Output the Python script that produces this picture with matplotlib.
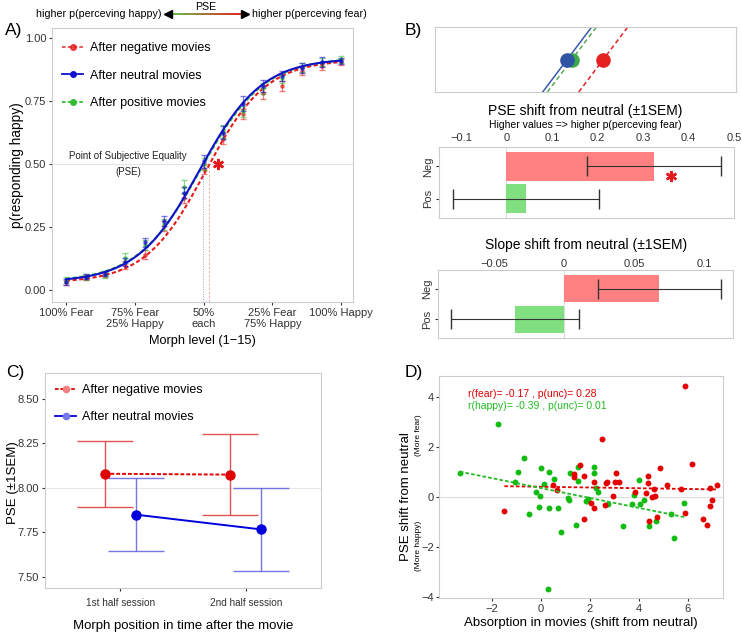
import numpy as np
import matplotlib
matplotlib.use('Agg')
import matplotlib.pyplot as plt
from matplotlib.lines import Line2D
from matplotlib.collections import LineCollection
from matplotlib.colors import to_rgb

plt.rcParams['font.family'] = ['Liberation Sans', 'DejaVu Sans']

# ---------------- data ----------------
# A) psychometric data, morph levels 1-15
levels = np.arange(1, 16)
neg_p = [0.030, 0.048, 0.062, 0.100, 0.140, 0.255, 0.365, 0.480, 0.600, 0.700, 0.780, 0.810, 0.870, 0.890, 0.905]
neu_p = [0.030, 0.052, 0.065, 0.110, 0.190, 0.275, 0.385, 0.510, 0.625, 0.740, 0.810, 0.850, 0.880, 0.905, 0.910]
pos_p = [0.040, 0.050, 0.060, 0.125, 0.180, 0.260, 0.410, 0.500, 0.630, 0.710, 0.800, 0.840, 0.885, 0.905, 0.915]
neg_sem = [0.010, 0.010, 0.010, 0.015, 0.018, 0.020, 0.020, 0.020, 0.022, 0.020, 0.020, 0.020, 0.018, 0.015, 0.012]
neu_sem = [0.012, 0.010, 0.010, 0.015, 0.018, 0.020, 0.022, 0.025, 0.025, 0.030, 0.025, 0.020, 0.020, 0.020, 0.012]
pos_sem = [0.012, 0.012, 0.012, 0.020, 0.020, 0.022, 0.025, 0.025, 0.025, 0.022, 0.022, 0.020, 0.018, 0.015, 0.015]
# fitted psychometric parameters (PSE, slope, lower, upper)
fit_neg = (8.30, 0.65, 0.028, 0.915)
fit_neu = (7.97, 0.63, 0.030, 0.920)
fit_pos = (8.01, 0.62, 0.032, 0.922)
xtick_pos = [1, 4.5, 8, 11.5, 15]
xtick_lab = ['100% Fear', '75% Fear\n25% Happy', '50%\neach', '25% Fear\n75% Happy', '100% Happy']

# B) shift from neutral
conds = ['Neg', 'Pos']
pse_shift = [0.325, 0.043]
pse_sem = [0.147, 0.161]
slope_shift = [0.068, -0.035]
slope_sem = [0.044, 0.046]

# C) PSE by half session
halves = ['1st half session', '2nd half session']
c_neg = [8.080, 8.075]
c_neg_sem = [0.186, 0.227]
c_neu = [7.850, 7.767]
c_neu_sem = [0.205, 0.235]

# D) absorption vs PSE shift
fear_x = [-1.48, 0.52, 0.69, 1.60, 1.35, 1.36, 1.77, 1.76, 2.52, 2.19, 2.06, 2.19, 2.61, 2.66, 2.70,
          2.96, 3.02, 3.09, 3.20, 3.87, 4.29, 4.40, 4.39, 4.53, 4.66, 4.65, 4.42, 4.76, 4.86, 5.16,
          5.72, 5.91, 5.90, 6.20, 6.63, 6.80, 6.90, 6.91, 7.02, 7.20]
fear_y = [-0.56, 0.47, 0.27, 1.29, 0.91, 0.79, 0.84, -0.89, 2.31, 0.61, -0.25, -0.45, -0.32, 0.55, 0.60,
          0.04, 0.59, 0.97, 0.59, 0.21, 0.15, 0.84, 0.57, -0.01, 0.04, 0.31, -0.95, -0.81, 1.16, 0.48,
          0.33, 4.44, -0.65, 1.33, -0.87, -1.13, 0.36, -0.35, -0.12, 0.47]
happy_x = [-3.30, -1.76, -0.66, -0.92, -1.06, 0.01, 0.33, -0.48, -0.18, -0.04, -0.08, 0.15, 0.36, 0.70,
           0.53, 0.85, 1.10, 1.17, 1.19, 1.43, 1.54, 1.52, 1.84, 0.29, 2.19, 2.19, 2.26, 2.33, 1.95,
           1.88, 2.74, 3.36, 3.80, 4.03, 3.73, 4.05, 4.24, 4.43, 4.73, 5.34, 5.43, 5.86]
happy_y = [0.95, 2.91, 1.56, 0.99, 0.60, 1.16, 1.00, -0.69, 0.21, 0.05, -0.39, 0.53, -0.44, -0.44,
           0.72, -1.39, -0.05, -0.13, 0.96, -1.13, 1.21, 0.65, -0.15, -3.67, 1.21, 0.96, 0.35, 0.21, -0.09,
           -0.15, -0.27, -1.17, 0.07, 0.67, -0.28, -0.29, -0.13, -1.15, -0.95, -0.69, -1.65, -0.23]

RED = '#E41A1C'
BLUE = '#1111CC'
GREEN = '#33BB33'
TICK = '#333333'
SPINE = '#CCCCCC'


def psy(x, pse, slope, lo, hi):
    m = pse - np.log((0.5 - lo) / (hi - 0.5)) / slope
    return lo + (hi - lo) / (1 + np.exp(-slope * (x - m)))


def style(ax, fs=8):
    for s in ax.spines.values():
        s.set_color(SPINE)
        s.set_linewidth(0.8)
    ax.tick_params(colors=TICK, labelsize=fs, length=2.5, width=0.8, pad=2)


W, H = 742, 635
fig = plt.figure(figsize=(W / 100, H / 100), dpi=100)


def box(l, t, r, b):
    return [l / W, (H - b) / H, (r - l) / W, (b - t) / H]


# ---------------- A ----------------
axA = fig.add_axes(box(52, 28, 353, 302))
style(axA)
axA.set_xlim(0.29, 15.6)
axA.set_ylim(-0.048, 1.04)
axA.axhline(0.5, color='#E3E3E3', lw=0.8, zorder=0)
xs = np.linspace(1, 15, 300)
series = [(neg_p, neg_sem, fit_neg, RED, (0, (2, 1.2)), 'After negative movies'),
          (pos_p, pos_sem, fit_pos, GREEN, (0, (2, 1.2)), 'After positive movies'),
          (neu_p, neu_sem, fit_neu, BLUE, '-', 'After neutral movies')]
for p, sem, fit, col, ls, lab in series:
    axA.errorbar(levels, p, yerr=sem, fmt='none', ecolor=col, elinewidth=0.9, capsize=2.5, alpha=0.55)
    axA.plot(levels, p, 'o', ms=2.3, color=col, alpha=0.6)
    axA.plot(xs, psy(xs, *fit), color=col, ls=ls, lw=1.5)
# PSE markers (negative and neutral only)
axA.vlines(fit_neu[0], -0.048, 0.5, color='#8888DD', lw=0.6, ls=(0, (1.5, 1.5)), alpha=0.8)
axA.vlines(fit_neg[0], -0.048, 0.5, color='#E88888', lw=0.6, ls=(0, (3, 2)), alpha=0.8)
axA.plot(8.72, 0.5, marker=(6, 2, 0), ms=8, mew=1.8, color=RED)
axA.text(4.15, 0.512, 'Point of Subjective Equality', fontsize=7, ha='center', va='bottom', color='#222222')
axA.text(4.15, 0.488, '(PSE)', fontsize=7, ha='center', va='top', color='#222222')
axA.set_xticks(xtick_pos)
axA.set_xticklabels(xtick_lab, fontsize=8, linespacing=1.1)
axA.set_yticks([0, 0.25, 0.5, 0.75, 1.0])
axA.set_yticklabels(['0.00', '0.25', '0.50', '0.75', '1.00'])
axA.tick_params(axis='y', pad=1.5)
axA.set_xlabel('Morph level (1\u221215)', fontsize=9.2, labelpad=4)
hA = [Line2D([], [], color=RED, ls=(0, (2, 1.2)), marker='o', ms=4, mfc=RED, alpha=0.8, lw=1.3),
      Line2D([], [], color=BLUE, ls='-', marker='o', ms=4, lw=1.3),
      Line2D([], [], color=GREEN, ls=(0, (2, 1.2)), marker='o', ms=4, lw=1.3)]
axA.legend(hA, ['After negative movies', 'After neutral movies', 'After positive movies'],
           loc='upper left', bbox_to_anchor=(0.0, 0.985), frameon=False, fontsize=9,
           handlelength=1.7, handletextpad=0.5, labelspacing=1.25, borderaxespad=0.4)

# ---------------- B schematic ----------------
axS = fig.add_axes(box(435, 27, 736, 92))
style(axS)
axS.set_xticks([])
axS.set_yticks([])
axS.set_xlim(-1.19, 1.52)
axS.set_ylim(0, 1)
yy = np.array([0.0, 1.0])
sch = [(pse_shift[0], '#E52222', '#E52222', (0, (3, 2))),
       (pse_shift[1], '#55AA55', '#3CAA48', (0, (3, 2))),
       (0.0, '#3B5BA8', '#2E54A3', '-')]
for sh, lc, dc, ls in sch:
    axS.plot(sh + 0.441 * (yy - 0.5), yy, color=lc, ls=ls, lw=1.1)
for sh, lc, dc, ls in sch:
    axS.plot(sh, 0.5, 'o', ms=9.5, color=dc, zorder=3)

# ---------------- B PSE bars ----------------
ypos = [1, 0]
bar_cols = ['#FF8080', '#80E080']
axP = fig.add_axes(box(439, 147, 734, 218))
style(axP)
axP.barh(ypos, pse_shift, height=0.9, color=bar_cols, zorder=2)
axP.errorbar(pse_shift, ypos, xerr=pse_sem, fmt='none', ecolor='#333333', elinewidth=0.8, capsize=7, zorder=3)
axP.axvline(0, color='#DDDDDD', lw=0.8, zorder=1)
axP.set_xlim(-0.148, 0.50)
axP.set_ylim(-0.6, 1.6)
axP.xaxis.tick_top()
axP.set_xticks([-0.1, 0, 0.1, 0.2, 0.3, 0.4, 0.5])
axP.set_xticklabels(['\u22120.1', '0', '0.1', '0.2', '0.3', '0.4', '0.5'])
axP.set_yticks(ypos)
axP.set_yticklabels(conds, rotation=90, va='center')
axP.tick_params(axis='x', length=0, pad=3)
axP.plot(0.362, 0.7, marker=(6, 2, 0), ms=8, mew=1.8, color=RED)

# ---------------- B slope bars ----------------
axL = fig.add_axes(box(438, 270, 733, 338))
style(axL)
axL.barh(ypos, slope_shift, height=0.9, color=bar_cols, zorder=2)
axL.errorbar(slope_shift, ypos, xerr=slope_sem, fmt='none', ecolor='#333333', elinewidth=0.8, capsize=7, zorder=3)
axL.axvline(0, color='#DDDDDD', lw=0.8, zorder=1)
axL.set_xlim(-0.09, 0.1207)
axL.set_ylim(-0.6, 1.6)
axL.xaxis.tick_top()
axL.set_xticks([-0.05, 0, 0.05, 0.1])
axL.set_xticklabels(['\u22120.05', '0', '0.05', '0.1'])
axL.set_yticks(ypos)
axL.set_yticklabels(conds, rotation=90, va='center')
axL.tick_params(axis='x', length=0, pad=1)

# ---------------- C ----------------
axC = fig.add_axes(box(45, 373, 321, 588))
style(axC)
axC.set_xlim(0.4, 2.6)
axC.set_ylim(7.438, 8.646)
axC.axhline(8.0, color='#E8E8E8', lw=0.8, zorder=0)
xc = np.arange(1, len(halves) + 1)
axC.errorbar(xc - 0.125, c_neg, yerr=c_neg_sem, fmt='none', ecolor='#E04040', elinewidth=1.0,
             capsize=20, capthick=1.0, alpha=0.9)
axC.errorbar(xc + 0.125, c_neu, yerr=c_neu_sem, fmt='none', ecolor='#5555DD', elinewidth=1.0,
             capsize=20, capthick=1.0, alpha=0.8)
axC.plot(xc - 0.125, c_neg, color='#E00000', ls=(0, (2, 1)), lw=1.4, marker='o', ms=6.5, zorder=3)
axC.plot(xc + 0.125, c_neu, color='#0000DD', ls='-', lw=1.4, marker='o', ms=6.5, zorder=3)
axC.set_xticks(xc)
axC.set_xticklabels(halves, fontsize=7.2)
axC.tick_params(axis='x', pad=5)
axC.set_yticks([7.5, 7.75, 8.0, 8.25, 8.5])
axC.set_yticklabels(['7.50', '7.75', '8.00', '8.25', '8.50'])
axC.set_xlabel('Morph position in time after the movie', fontsize=9.5, labelpad=8)
hC = [Line2D([], [], color='#E00000', ls=(0, (2, 1)), marker='o', ms=4.5, mfc='#F08080', mec='#F08080', lw=1.3),
      Line2D([], [], color='#0000DD', ls='-', marker='o', ms=4.5, mfc='#7777EE', mec='#7777EE', lw=1.3)]
axC.legend(hC, ['After negative movies', 'After neutral movies'], loc='upper left',
           bbox_to_anchor=(0.0, 0.995), frameon=False, fontsize=9, handlelength=1.7,
           handletextpad=0.5, labelspacing=1.2, borderaxespad=0.4)

# ---------------- D ----------------
axD = fig.add_axes(box(439, 376, 723, 598))
style(axD)
axD.set_xlim(-4.15, 7.45)
axD.set_ylim(-4.04, 4.84)
axD.axhline(0, color='#DDDDDD', lw=0.8, zorder=0)
axD.scatter(happy_x, happy_y, s=18, color='#11BB11', lw=0, zorder=2)
axD.scatter(fear_x, fear_y, s=18, color='#E50000', lw=0, zorder=2)
for gx, gy, col in [(fear_x, fear_y, '#E00000'), (happy_x, happy_y, '#22BB22')]:
    k, b = np.polyfit(gx, gy, 1)
    lx = np.array([min(gx), max(gx)])
    axD.plot(lx, k * lx + b, color=col, ls=(0, (2, 1.2)), lw=1.3, zorder=3)
axD.text(-2.96, 4.12, 'r(fear)= -0.17 , p(unc)= 0.28', color='#E00000', fontsize=7.5, va='center')
axD.text(-2.96, 3.64, 'r(happy)= -0.39 , p(unc)= 0.01', color='#22BB22', fontsize=7.5, va='center')
axD.set_xticks([-2, 0, 2, 4, 6])
axD.set_yticks([-4, -2, 0, 2, 4])
axD.tick_params(axis='y', pad=1)
axD.set_xlabel('Absorption in movies (shift from neutral)', fontsize=9.5, labelpad=2)

# ---------------- overlay texts ----------------
ov = fig.add_axes([0, 0, 1, 1])
ov.set_xlim(0, W)
ov.set_ylim(H, 0)
ov.axis('off')
for lab, x, y in [('A)', 5, 30), ('B)', 405, 30), ('C)', 6, 373), ('D)', 405, 373)]:
    ov.text(x, y, lab, fontsize=12.5, ha='left', va='center')

# y labels of A and C
ov.text(17, 165, 'p(responding happy)', fontsize=9.8, rotation=90, ha='center', va='center')
ov.text(13, 483, 'PSE (\u00b11SEM)', fontsize=9.5, rotation=90, ha='center', va='center')

# top PSE arrow
ax_x = np.linspace(172, 241, 30)
segs = [[(ax_x[i], 14), (ax_x[i + 1], 14)] for i in range(len(ax_x) - 1)]
g, r = np.array(to_rgb('#66BB44')), np.array(to_rgb('#E02020'))
cols = [g + (r - g) * t for t in np.linspace(0, 1, len(segs))]
ov.add_collection(LineCollection(segs, colors=cols, linewidths=1.4))
ov.plot(168, 14, marker='<', ms=5.5, color='black')
ov.plot(245, 14, marker='>', ms=5.5, color='black')
ov.text(206, 7, 'PSE', fontsize=7.7, ha='center', va='center')
ov.text(162, 14, 'higher p(perceving happy)', fontsize=7.7, ha='right', va='center')
ov.text(252, 14, 'higher p(perceving fear)', fontsize=7.7, ha='left', va='center')

# B titles
ov.text(585, 111, 'PSE shift from neutral (\u00b11SEM)', fontsize=10, ha='center', va='center')
ov.text(585, 125, 'Higher values => higher p(perceving fear)', fontsize=7.5, ha='center', va='center')
ov.text(586, 245, 'Slope shift from neutral (\u00b11SEM)', fontsize=10, ha='center', va='center')

# D y-label
ov.text(406, 497, 'PSE shift from neutral', fontsize=9.5, rotation=90, ha='center', va='center')
ov.text(419, 435, '(More fear)', fontsize=6, rotation=90, ha='center', va='center')
ov.text(419, 546, '(More happy)', fontsize=6, rotation=90, ha='center', va='center')

fig.savefig('out.png', dpi=100)
